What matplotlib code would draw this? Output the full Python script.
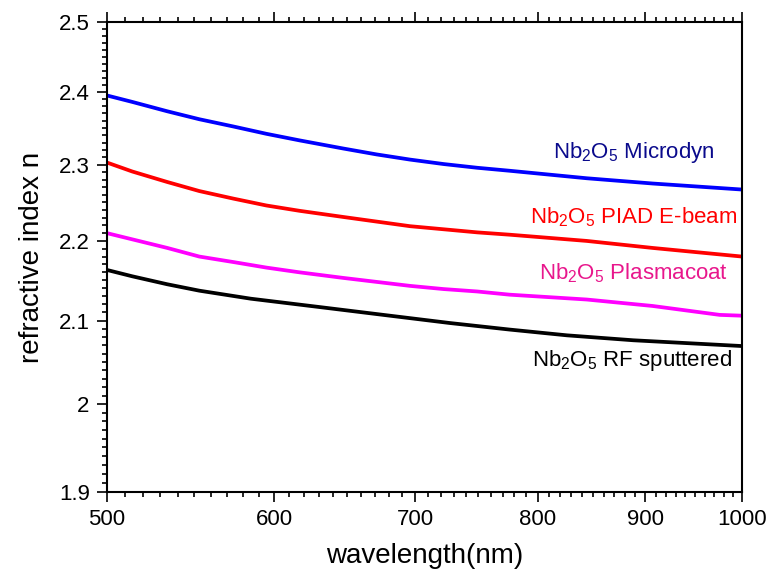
import numpy as np
import matplotlib
matplotlib.use("Agg")
import matplotlib.pyplot as plt
from matplotlib.ticker import FixedLocator, FuncFormatter, NullFormatter

plt.rcParams['font.family'] = ['Liberation Sans', 'DejaVu Sans']
plt.rcParams['mathtext.fontset'] = 'custom'
plt.rcParams['mathtext.rm'] = 'Liberation Sans'

# refractive index of Nb2O5 films vs wavelength (nm)
wl_microdyn = [500, 514, 534, 553, 574, 595, 617, 647, 671, 696, 722, 749, 776, 844, 907, 1000]
n_microdyn = [2.395, 2.386, 2.373, 2.362, 2.352, 2.342, 2.333, 2.322, 2.314, 2.307,
              2.301, 2.296, 2.292, 2.282, 2.275, 2.267]

wl_piad = [500, 514, 534, 553, 574, 595, 617, 647, 671, 696, 722, 749, 776, 844, 907, 1000]
n_piad = [2.303, 2.291, 2.277, 2.265, 2.255, 2.246, 2.239, 2.231, 2.225, 2.219,
          2.215, 2.211, 2.208, 2.200, 2.191, 2.180]

wl_plasma = [500, 514, 534, 553, 574, 595, 617, 647, 671, 696, 722, 749, 776, 844, 907, 976, 1000]
n_plasma = [2.210, 2.202, 2.191, 2.180, 2.173, 2.166, 2.160, 2.153, 2.148, 2.143,
            2.139, 2.136, 2.132, 2.126, 2.118, 2.107, 2.106]

wl_rf = [500, 514, 534, 553, 585, 629, 676, 727, 776, 826, 888, 1000]
n_rf = [2.163, 2.155, 2.145, 2.137, 2.127, 2.117, 2.107, 2.097, 2.089, 2.082, 2.076, 2.069]

x_ticks = [500, 600, 700, 800, 900, 1000]
y_ticks = [1.9, 2.0, 2.1, 2.2, 2.3, 2.4, 2.5]

fig = plt.figure(figsize=(7.71, 5.73), dpi=100)
ax = fig.add_axes([0.1388, 0.1414, 0.8236, 0.8202])

ax.plot(wl_microdyn, n_microdyn, color='#0000ff', lw=2.7)
ax.plot(wl_piad, n_piad, color='#ff0000', lw=2.7)
ax.plot(wl_plasma, n_plasma, color='#ff00ff', lw=2.7)
ax.plot(wl_rf, n_rf, color='black', lw=2.7)

ax.set_xscale('log')
ax.set_yscale('log')
ax.set_xlim(500, 1000)
ax.set_ylim(1.9, 2.5)

ax.xaxis.set_major_locator(FixedLocator(x_ticks))
ax.xaxis.set_minor_locator(FixedLocator(np.arange(500, 1001, 10)))
ax.xaxis.set_major_formatter(FuncFormatter(lambda v, p: '%g' % v))
ax.xaxis.set_minor_formatter(NullFormatter())
ax.yaxis.set_major_locator(FixedLocator(y_ticks))
ax.yaxis.set_minor_locator(FixedLocator(np.arange(1.9, 2.505, 0.01)))
ax.yaxis.set_major_formatter(FuncFormatter(lambda v, p: '%g' % round(v, 2)))
ax.yaxis.set_minor_formatter(NullFormatter())

ax.tick_params(which='both', direction='out', top=True, right=False,
               width=1.2, labelsize=16, colors='black')
ax.tick_params(which='major', length=7.5, pad=5)
ax.tick_params(which='minor', length=3.5)
for s in ax.spines.values():
    s.set_linewidth(1.5)

ax.set_xlabel('wavelength(nm)', fontsize=20, labelpad=9)
ax.set_ylabel('refractive index n', fontsize=20, labelpad=10)

lbl = dict(fontsize=16, ha='right', va='baseline')
ax.text(971, 2.3085, r'Nb$_\mathregular{2}$O$_\mathregular{5}$ Microdyn', color='#0a0a8c', **lbl)
ax.text(995, 2.2222, r'Nb$_\mathregular{2}$O$_\mathregular{5}$ PIAD E-beam', color='#ff0000', **lbl)
ax.text(985, 2.1512, r'Nb$_\mathregular{2}$O$_\mathregular{5}$ Plasmacoat', color='#e8178c', **lbl)
ax.text(989, 2.0454, r'Nb$_\mathregular{2}$O$_\mathregular{5}$ RF sputtered', color='black', **lbl)

fig.savefig('out.png', dpi=100)
